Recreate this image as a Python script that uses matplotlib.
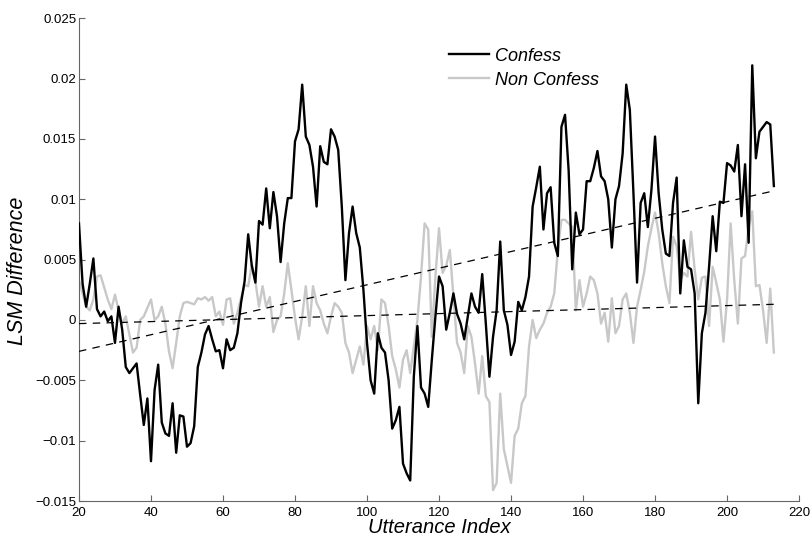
import matplotlib
matplotlib.use("Agg")
import matplotlib.pyplot as plt
import numpy as np

# utterance index 20..213
idx = np.arange(20, 214)

confess = [
    0.0080, 0.0030, 0.0011, 0.0030, 0.0051, 0.0009, 0.0003, 0.0007, -0.0001, 0.0003,
    -0.0019, 0.0011, -0.0008, -0.0039, -0.0044, -0.0040, -0.0036, -0.0062, -0.0087, -0.0065,
    -0.0117, -0.0058, -0.0037, -0.0085, -0.0094, -0.0096, -0.0069, -0.0110, -0.0079, -0.0080,
    -0.0105, -0.0102, -0.0088, -0.0039, -0.0027, -0.0012, -0.0005, -0.0016, -0.0026, -0.0025,
    -0.0040, -0.0016, -0.0025, -0.0023, -0.0011, 0.0014, 0.0032, 0.0071, 0.0045, 0.0031,
    0.0082, 0.0079, 0.0109, 0.0076, 0.0106, 0.0086, 0.0048, 0.0080, 0.0101, 0.0101,
    0.0148, 0.0158, 0.0195, 0.0152, 0.0145, 0.0127, 0.0094, 0.0144, 0.0131, 0.0129,
    0.0158, 0.0152, 0.0141, 0.0094, 0.0033, 0.0072, 0.0094, 0.0072, 0.0060, 0.0025,
    -0.0019, -0.0050, -0.0061, -0.0011, -0.0023, -0.0027, -0.0050, -0.0090, -0.0083, -0.0072,
    -0.0119, -0.0127, -0.0133, -0.0047, -0.0005, -0.0056, -0.0061, -0.0072, -0.0033, 0.0003,
    0.0036, 0.0028, -0.0008, 0.0006, 0.0022, 0.0005, -0.0003, -0.0016, 0.0003, 0.0022,
    0.0011, 0.0006, 0.0038, -0.0003, -0.0047, -0.0014, 0.0008, 0.0065, 0.0008, -0.0004,
    -0.0029, -0.0018, 0.0015, 0.0008, 0.0019, 0.0036, 0.0094, 0.0110, 0.0127, 0.0075,
    0.0105, 0.0110, 0.0064, 0.0053, 0.0160, 0.0170, 0.0124, 0.0042, 0.0089, 0.0071,
    0.0075, 0.0115, 0.0115, 0.0126, 0.0140, 0.0119, 0.0115, 0.0100, 0.0060, 0.0100,
    0.0111, 0.0138, 0.0195, 0.0174, 0.0105, 0.0031, 0.0097, 0.0105, 0.0077, 0.0108,
    0.0152, 0.0105, 0.0075, 0.0055, 0.0053, 0.0097, 0.0118, 0.0022, 0.0066, 0.0044,
    0.0042, 0.0022, -0.0069, -0.0011, 0.0006, 0.0044, 0.0086, 0.0057, 0.0098, 0.0097,
    0.0130, 0.0128, 0.0123, 0.0145, 0.0086, 0.0129, 0.0064, 0.0211, 0.0134, 0.0156,
    0.0160, 0.0164, 0.0162, 0.0111,
]

non_confess = [
    0.0033, 0.0022, 0.0011, 0.0008, 0.0017, 0.0036, 0.0037, 0.0027, 0.0017, 0.0009,
    0.0021, 0.0008, -0.0003, 0.0003, -0.0012, -0.0027, -0.0023, 0.0000, 0.0003, 0.0010,
    0.0017, 0.0000, 0.0003, 0.0011, -0.0003, -0.0026, -0.0040, -0.0019, 0.0003, 0.0014,
    0.0015, 0.0014, 0.0013, 0.0018, 0.0017, 0.0019, 0.0016, 0.0019, 0.0003, 0.0007,
    -0.0004, 0.0017, 0.0018, -0.0003, 0.0006, 0.0018, 0.0029, 0.0028, 0.0046, 0.0032,
    0.0011, 0.0028, 0.0011, 0.0019, -0.0010, 0.0000, 0.0003, 0.0022, 0.0047, 0.0025,
    0.0002, -0.0016, 0.0003, 0.0028, -0.0005, 0.0028, 0.0014, 0.0008, -0.0003, -0.0011,
    0.0003, 0.0014, 0.0011, 0.0006, -0.0019, -0.0027, -0.0044, -0.0033, -0.0022, -0.0037,
    -0.0005, -0.0016, -0.0005, -0.0025, 0.0017, 0.0014, -0.0005, -0.0030, -0.0041, -0.0056,
    -0.0033, -0.0025, -0.0044, -0.0022, 0.0000, 0.0036, 0.0080, 0.0075, -0.0014, 0.0036,
    0.0076, 0.0039, 0.0045, 0.0058, 0.0019, -0.0019, -0.0027, -0.0044, -0.0005, -0.0014,
    -0.0036, -0.0061, -0.0030, -0.0063, -0.0068, -0.0141, -0.0135, -0.0061, -0.0107, -0.0121,
    -0.0135, -0.0096, -0.0090, -0.0069, -0.0063, -0.0022, 0.0000, -0.0015, -0.0008, -0.0003,
    0.0006, 0.0011, 0.0022, 0.0058, 0.0083, 0.0083, 0.0080, 0.0077, 0.0008, 0.0033,
    0.0011, 0.0022, 0.0036, 0.0033, 0.0022, -0.0003, 0.0006, -0.0018, 0.0018, -0.0011,
    -0.0005, 0.0017, 0.0022, 0.0006, -0.0019, 0.0011, 0.0025, 0.0040, 0.0061, 0.0076,
    0.0089, 0.0072, 0.0047, 0.0028, 0.0014, 0.0069, 0.0061, 0.0033, 0.0039, 0.0036,
    0.0073, 0.0042, 0.0017, 0.0035, 0.0036, -0.0005, 0.0044, 0.0031, 0.0017, -0.0018,
    0.0017, 0.0080, 0.0033, -0.0003, 0.0051, 0.0053, 0.0077, 0.0090, 0.0028, 0.0029,
    0.0008, -0.0019, 0.0026, -0.0027,
]

# linear trends (end values)
trend_x = [20, 213]
trend_confess = [-0.0026, 0.0107]
trend_non_confess = [-0.0003, 0.0013]

xticks = [20, 40, 60, 80, 100, 120, 140, 160, 180, 200, 220]
yticks = [-0.015, -0.01, -0.005, 0, 0.005, 0.01, 0.015, 0.02, 0.025]
ytick_labels = ["\u22120.015", "\u22120.01", "\u22120.005", "0", "0.005",
                "0.01", "0.015", "0.02", "0.025"]

plt.rcParams['font.family'] = ['Liberation Sans', 'DejaVu Sans']

fig = plt.figure(figsize=(8.10, 5.37), dpi=100)
ax = fig.add_axes([0.0975, 0.067, 0.889, 0.899])

ax.plot(idx, non_confess, color='#c8c8c8', lw=1.7, label='Non Confess', zorder=2)
ax.plot(idx, confess, color='black', lw=1.7, label='Confess', zorder=3)
ax.plot(trend_x, trend_confess, color='black', lw=0.9, ls=(0, (6, 5)), zorder=4)
ax.plot(trend_x, trend_non_confess, color='black', lw=0.9, ls=(0, (6, 5)), zorder=4)

ax.set_xlim(20, 220)
ax.set_ylim(-0.015, 0.025)
ax.set_xticks(xticks)
ax.set_yticks(yticks)
ax.set_yticklabels(ytick_labels)

for s in ['top', 'right']:
    ax.spines[s].set_visible(False)
for s in ['left', 'bottom']:
    ax.spines[s].set_color('#666666')
    ax.spines[s].set_linewidth(0.8)
ax.tick_params(direction='in', length=4, width=0.8, color='#666666',
               labelsize=9.5, pad=2)
ax.tick_params(axis='x', pad=4)

ax.set_xlabel('Utterance Index', fontsize=14.5, style='italic')
ax.set_ylabel('LSM Difference', fontsize=15.5, style='italic')
ax.xaxis.set_label_coords(0.5, -0.036)
ax.yaxis.set_label_coords(-0.071, 0.476)

handles, labels = ax.get_legend_handles_labels()
leg = ax.legend(handles[::-1], labels[::-1], loc='upper left',
                bbox_to_anchor=(0.502, 0.958), frameon=False,
                fontsize=13, handlelength=2.2, handletextpad=0.3,
                labelspacing=0.4, borderpad=0)
for t in leg.get_texts():
    t.set_style('italic')

fig.savefig('out.png', dpi=100)
